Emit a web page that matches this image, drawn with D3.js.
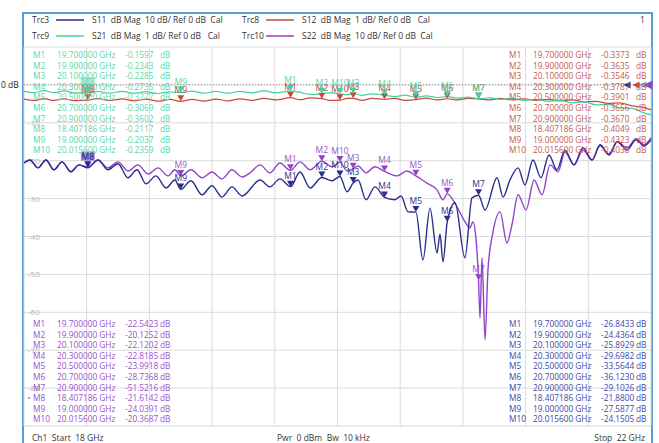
<!DOCTYPE html>
<html><head><meta charset="utf-8">
<script src="https://cdn.jsdelivr.net/npm/d3@7"></script>
<style>
html,body{margin:0;padding:0;background:#fff;}
svg{display:block;font-family:"Open Sans","Noto Sans",sans-serif;}
text{white-space:pre;}
</style></head><body>
<svg id="chart" width="659" height="443"></svg>
<script>
// ---------- sweep & markers ----------
const startGHz = 18, stopGHz = 22;
const markerNames = ["M1","M2","M3","M4","M5","M6","M7","M8","M9","M10"];
const markerFreqs = [19.7, 19.9, 20.1, 20.3, 20.5, 20.7, 20.9, 18.407186, 19.0, 20.0156];
const s11Markers = [-26.8433,-24.4364,-25.8929,-29.6982,-33.5644,-36.1230,-29.1026,-21.8800,-27.5877,-24.1505];
const s22Markers = [-22.5423,-20.1252,-22.1202,-22.8185,-23.9918,-28.7368,-51.5216,-21.6142,-24.0391,-20.3687];
const s21Markers = [-0.1597,-0.2343,-0.2285,-0.2735,-0.3277,-0.3069,-0.3602,-0.2117,-0.2037,-0.2359];
const s12Markers = [-0.3373,-0.3635,-0.3546,-0.3787,-0.3901,-0.3656,-0.3670,-0.4049,-0.4323,-0.4038];

// ---------- traces ----------
const s11Freq = [18.000,18.038,18.089,18.140,18.191,18.242,18.300,18.351,18.407186,18.472,18.536,18.600,18.663,18.721,18.778,18.842,18.906,18.963,19.000,19.065,19.136,19.199,19.263,19.327,19.391,19.506,19.569,19.633,19.700,19.761,19.825,19.900,19.965,20.0156,20.061,20.100,20.131,20.182,20.239,20.300,20.367,20.405,20.450,20.500,20.545,20.590,20.635,20.654,20.673,20.700,20.750,20.813,20.858,20.900,20.941,21.018,21.056,21.100,21.152,21.196,21.247,21.298,21.349,21.400,21.451,21.509,21.566,21.624,21.675,21.732,21.785,21.847,21.904,21.955,22.000];
const s11Vals = [-20.6,-19.8,-21.9,-19.8,-22.4,-20.3,-22.9,-21.1,-21.88,-19.8,-22.4,-20.8,-24.5,-22.4,-26.1,-24.0,-27.2,-25.1,-27.59,-25.3,-29.0,-26.6,-29.6,-26.9,-29.3,-25.1,-26.9,-24.8,-26.84,-23.0,-27.2,-24.44,-25.3,-24.15,-28.2,-25.89,-25.1,-30.3,-26.9,-29.70,-30.3,-29.3,-33.5,-33.56,-46.2,-32.5,-44.3,-39.3,-46.7,-36.12,-31.1,-45.6,-29.8,-29.10,-33.0,-24.5,-29.6,-25.1,-21.9,-26.4,-19.8,-24.5,-18.5,-22.4,-17.2,-21.1,-16.6,-19.8,-15.8,-18.5,-15.0,-17.2,-14.5,-16.1,-14.5];

const s22Freq = [18.000,18.038,18.089,18.140,18.191,18.242,18.300,18.351,18.407186,18.472,18.536,18.600,18.663,18.727,18.791,18.855,18.919,18.963,19.000,19.065,19.136,19.199,19.263,19.327,19.391,19.442,19.506,19.569,19.633,19.700,19.761,19.825,19.900,19.965,20.0156,20.061,20.100,20.131,20.182,20.239,20.300,20.380,20.443,20.500,20.571,20.635,20.673,20.700,20.762,20.813,20.845,20.864,20.884,20.900,20.909,20.922,20.941,20.960,20.992,21.037,21.081,21.113,21.152,21.203,21.254,21.305,21.356,21.407,21.451,21.509,21.566,21.624,21.675,21.732,21.785,21.847,21.904,21.955,22.000];
const s22Vals = [-20.6,-19.8,-21.9,-19.8,-22.4,-20.3,-22.9,-21.1,-21.61,-19.8,-21.9,-20.3,-22.7,-21.1,-23.5,-21.9,-24.0,-22.4,-24.04,-22.4,-24.5,-23.0,-24.8,-22.4,-24.3,-23.2,-21.1,-23.2,-20.6,-22.54,-20.3,-22.4,-20.13,-21.6,-20.37,-22.7,-22.12,-21.4,-23.2,-21.6,-22.82,-24.0,-22.7,-23.99,-25.9,-27.7,-30.3,-28.74,-32.2,-36.1,-37.7,-36.1,-40.9,-51.52,-61.5,-45.6,-67.3,-48.8,-38.8,-33.5,-41.7,-36.9,-29.0,-33.0,-25.1,-29.0,-21.1,-22.9,-17.7,-21.1,-17.2,-19.8,-16.1,-18.2,-15.0,-16.6,-14.2,-15.8,-14.0];

const thruFreq = [18.000,18.064,18.128,18.191,18.255,18.319,18.407186,18.472,18.549,18.625,18.702,18.778,18.855,18.931,19.000,19.072,19.148,19.225,19.301,19.378,19.455,19.531,19.608,19.700,19.761,19.825,19.900,19.952,20.0156,20.061,20.100,20.156,20.220,20.300,20.367,20.431,20.500,20.565,20.635,20.700,20.769,20.833,20.900,20.973,21.037,21.113,21.190,21.266,21.343,21.420,21.496,21.573,21.649,21.726,21.802,21.879,21.955,22.000];
const s21Vals = [-0.171,-0.206,-0.153,-0.206,-0.158,-0.211,-0.2117,-0.171,-0.216,-0.171,-0.222,-0.179,-0.227,-0.185,-0.2037,-0.164,-0.216,-0.171,-0.216,-0.171,-0.211,-0.158,-0.206,-0.1597,-0.198,-0.251,-0.2343,-0.206,-0.2359,-0.259,-0.2285,-0.277,-0.237,-0.2735,-0.311,-0.269,-0.3277,-0.290,-0.332,-0.3069,-0.348,-0.322,-0.3602,-0.343,-0.383,-0.356,-0.409,-0.383,-0.435,-0.409,-0.475,-0.449,-0.528,-0.515,-0.607,-0.620,-0.739,-0.792];
const s12Vals = [-0.377,-0.409,-0.364,-0.409,-0.369,-0.417,-0.4049,-0.364,-0.412,-0.369,-0.422,-0.375,-0.430,-0.383,-0.4323,-0.383,-0.427,-0.375,-0.422,-0.369,-0.409,-0.356,-0.396,-0.3373,-0.391,-0.343,-0.3635,-0.409,-0.4038,-0.356,-0.3546,-0.409,-0.356,-0.3787,-0.356,-0.409,-0.3901,-0.348,-0.396,-0.3656,-0.396,-0.356,-0.3670,-0.396,-0.356,-0.396,-0.369,-0.409,-0.383,-0.422,-0.396,-0.449,-0.435,-0.488,-0.475,-0.554,-0.594,-0.660];

// ---------- header / footer texts ----------
const traceLegend = [
  {trc:"Trc3",  desc:"S11  dB Mag  10 dB/ Ref 0 dB  Cal"},
  {trc:"Trc8",  desc:"S12  dB Mag  1 dB/ Ref 0 dB   Cal"},
  {trc:"Trc9",  desc:"S21  dB Mag  1 dB/ Ref 0 dB   Cal"},
  {trc:"Trc10", desc:"S22  dB Mag  10 dB/ Ref 0 dB  Cal"}
];
const wideTicks = [-10,-20,-30,-40,-50,-60,-70,-80];
const footer = {left:"Ch1  Start  18 GHz", mid:"Pwr  0 dBm  Bw  10 kHz", right:"Stop  22 GHz"};

// ---------- styles ----------
const C = {
  s11:"#2a2d8c", s22:"#9343c9", s21:"#3fd3a2", s12:"#c44a3e",
  t11:"#4048a8", t22:"#9a52cc", t21:"#5cd6a6", t12:"#c45a52",
  grid:"#dadada", frame:"#5b9bd8", text:"#333"
};

const svg = d3.select("#chart");
const L = 24, R = 651, T = 47, B = 426;
const x = d3.scaleLinear().domain([startGHz, stopGHz]).range([L, R]);
const yWide = d3.scaleLinear().domain([10, -90]).range([T, B]);
const yFine = d3.scaleLinear().domain([1, -9]).range([T, B]);

// frame
svg.append("path").attr("d", `M23,443 V13 H652 V443`).attr("fill","none")
  .attr("stroke", C.frame).attr("stroke-width", 2);

// grid
const g = svg.append("g");
g.selectAll(".vx").data(d3.range(0, 11)).join("line")
  .attr("x1", i => x(startGHz + i*0.4)).attr("x2", i => x(startGHz + i*0.4))
  .attr("y1", T).attr("y2", B).attr("stroke", C.grid).attr("stroke-width", 1);
g.selectAll(".hy").data(d3.range(0, 11)).join("line")
  .attr("x1", L).attr("x2", R)
  .attr("y1", i => yWide(10 - i*10)).attr("y2", i => yWide(10 - i*10))
  .attr("stroke", C.grid).attr("stroke-width", 1);
// reference line
svg.append("line").attr("x1", L).attr("x2", R).attr("y1", yWide(0)).attr("y2", yWide(0))
  .attr("stroke", "#8a8a8a").attr("stroke-width", 1).attr("stroke-dasharray", "1,2");

// tick labels
svg.selectAll(".tk").data(wideTicks).join("text")
  .attr("x", 28).attr("y", d => yWide(d) + 3).attr("font-size", 8)
  .attr("fill", "#b5b5b5").text(d => d);
svg.append("text").attr("x", 1).attr("y", yWide(0) + 3).attr("font-size", 8.5)
  .attr("fill", "#222").text("0 dB");

// header
const hdr = [[32, 23, 0], [242, 23, 1], [32, 39, 2], [242, 39, 3]];
const hdrColors = [C.s11, C.s12, C.s21, C.s22];
hdr.forEach(([hx, hy, i]) => {
  svg.append("text").attr("x", hx).attr("y", hy).attr("font-size", 8.5).attr("fill", C.text).text(traceLegend[i].trc);
  svg.append("line").attr("x1", hx + 24).attr("x2", hx + 52).attr("y1", hy - 3).attr("y2", hy - 3)
    .attr("stroke", hdrColors[i]).attr("stroke-width", 1.5);
  svg.append("text").attr("x", hx + 60).attr("y", hy).attr("font-size", 8.5).attr("fill", C.text).text(traceLegend[i].desc);
});
svg.append("text").attr("x", 640).attr("y", 23).attr("font-size", 8.5).attr("fill", C.text).text("1");

// traces
const line = (xs, ys, yScale) => d3.line().curve(d3.curveMonotoneX)
  .x((d, i) => x(xs[i])).y((d, i) => yScale(ys[i]))(xs);
const traces = [
  {f: thruFreq, v: s12Vals, y: yFine, c: C.s12, w: 1.2},
  {f: thruFreq, v: s21Vals, y: yFine, c: C.s21, w: 1.2},
  {f: s22Freq, v: s22Vals, y: yWide, c: C.s22, w: 1.4},
  {f: s11Freq, v: s11Vals, y: yWide, c: C.s11, w: 1.4}
];
traces.forEach(t => svg.append("path").attr("d", line(t.f, t.v, t.y))
  .attr("fill", "none").attr("stroke", t.c).attr("stroke-width", t.w).attr("stroke-linejoin", "round"));

// marker symbols
function drawMarkers(vals, yScale, color, labelColor) {
  const mg = svg.append("g");
  markerFreqs.forEach((f, i) => {
    const px = x(f), py = yScale(vals[i]);
    mg.append("path").attr("d", `M${px},${py} l-3.5,-6 h7 z`).attr("fill", color);
    if (markerNames[i] === "M8") {
      mg.append("rect").attr("x", px - 7).attr("y", py - 16).attr("width", 14).attr("height", 9)
        .attr("fill", color).attr("opacity", 0.3);
    }
    mg.append("text").attr("x", px).attr("y", py - 8).attr("text-anchor", "middle")
      .attr("font-size", 8.5).attr("fill", labelColor).text(markerNames[i]);
  });
}
drawMarkers(s12Markers, yFine, C.s12, "#b04538");
drawMarkers(s21Markers, yFine, C.s21, C.t21);
drawMarkers(s22Markers, yWide, C.s22, C.t22);
drawMarkers(s11Markers, yWide, C.s11, C.s11);

// reference arrows at right edge
[[627, C.s11, 3.5], [636, C.s12, 3.5], [643, C.s21, 3.5], [648, C.s22, 4.5]].forEach(([ax, c, s]) => {
  svg.append("path").attr("d", `M${ax - s},${yWide(0)} l${2*s},${-s} v${2*s} z`).attr("fill", c);
});

// marker tables
function table(vals, col, x0, y0, dotted) {
  const tg = svg.append("g").attr("font-size", 8.3).attr("fill", col);
  markerNames.forEach((m, i) => {
    const ty = y0 + i * 10.6 + 3;
    tg.append("text").attr("x", x0).attr("y", ty).text(m);
    if (dotted && m === "M8") tg.append("circle").attr("cx", x0 - 4).attr("cy", ty - 3).attr("r", 0.9);
    tg.append("text").attr("x", x0 + 24).attr("y", ty).text(markerFreqs[i].toFixed(6) + " GHz");
    tg.append("text").attr("x", x0 + 92).attr("y", ty).text(vals[i].toFixed(4));
    tg.append("text").attr("x", x0 + 127).attr("y", ty).text("dB");
  });
}
table(s21Markers, C.t21, 33, 55, false);
table(s12Markers, C.t12, 509, 55, false);
table(s22Markers, C.t22, 33, 324, true);
table(s11Markers, C.t11, 509, 324, false);

// footer
svg.append("text").attr("x", 32).attr("y", 441).attr("font-size", 8.5).attr("fill", C.text).text(footer.left);
svg.append("text").attr("x", 277).attr("y", 441).attr("font-size", 8.5).attr("fill", C.text).text(footer.mid);
svg.append("text").attr("x", 645).attr("y", 441).attr("text-anchor", "end").attr("font-size", 8.5).attr("fill", C.text).text(footer.right);
</script>
</body></html>
